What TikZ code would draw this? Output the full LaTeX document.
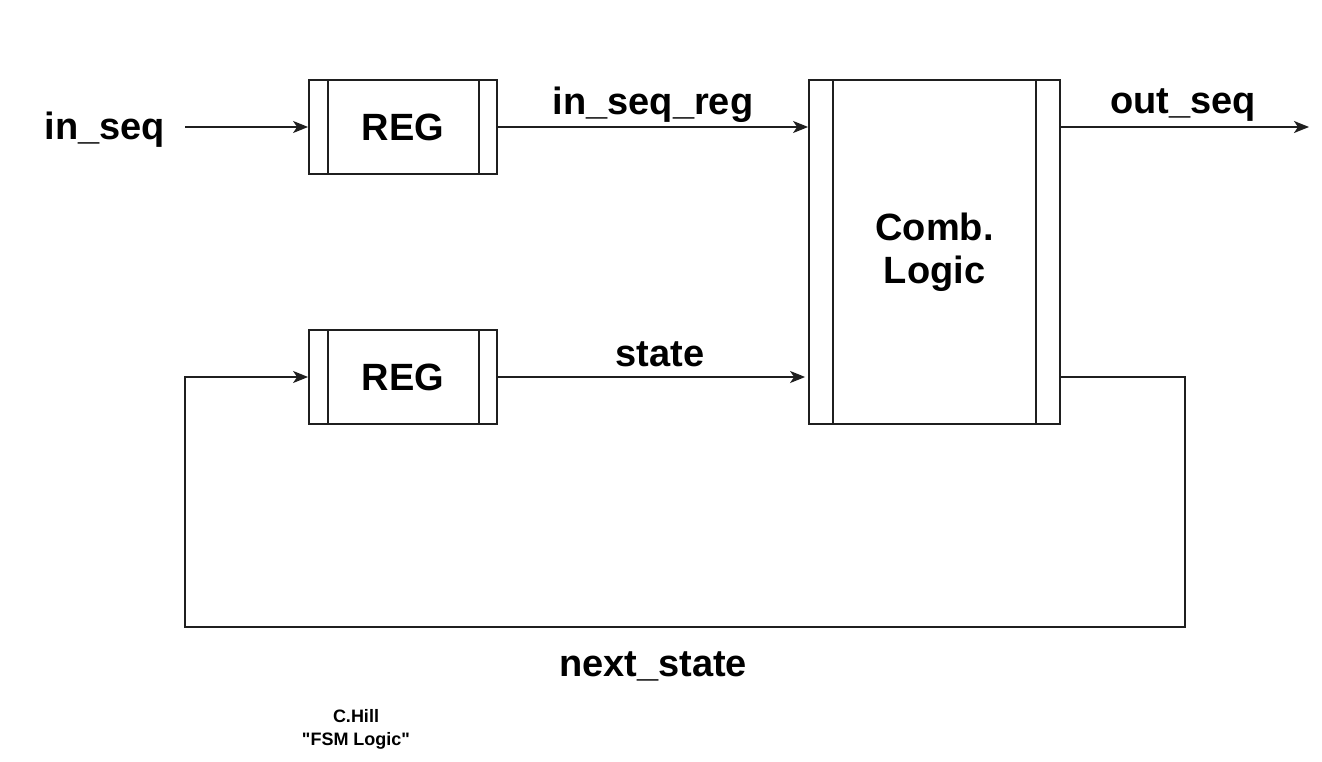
\documentclass[tikz,border=0pt]{standalone}
\usepackage{fontspec}
\setmainfont{Liberation Sans}[Ligatures=TeXOff]
\usetikzlibrary{arrows.meta,calc}
\begin{document}
\begin{tikzpicture}[x=1pt,y=-1pt,
  lw/.style={line width=1.8pt, draw=black!88},
  arr/.style={lw,-{Stealth[length=15pt,width=12pt,inset=4pt]}},
  regbox/.style={lw,rectangle,minimum width=188pt,minimum height=94pt,inner sep=0pt,
     font=\fontsize{38}{43}\selectfont\bfseries},
  combbox/.style={lw,rectangle,minimum width=251pt,minimum height=344pt,inner sep=0pt,align=center,
     font=\fontsize{38}{43}\selectfont\bfseries},
  lbl/.style={inner sep=0pt,font=\fontsize{38}{43}\selectfont\bfseries},
  small/.style={inner sep=0pt,align=center,font=\fontsize{18}{23}\selectfont\bfseries}]
\useasboundingbox (0,0) rectangle (1322,762);
\fill[white] (0,0) rectangle (1322,762);

\node[regbox] (reg1) at (403,127) {REG};
\node[regbox] (reg2) at (403,377) {REG};
\node[combbox] (comb) at (934.5,252) {Comb.\\Logic};

% inner vertical lines
\foreach \n in {reg1,reg2}{
  \draw[lw] ($(\n.north west)+(20,0)$) -- ($(\n.south west)+(20,0)$);
  \draw[lw] ($(\n.north east)+(-19,0)$) -- ($(\n.south east)+(-19,0)$);
}
\draw[lw] ($(comb.north west)+(25,0)$) -- ($(comb.south west)+(25,0)$);
\draw[lw] ($(comb.north east)+(-25,0)$) -- ($(comb.south east)+(-25,0)$);

% labels
\node[lbl] (inseq) at (105,130) {in\_seq};
\node[lbl] (inseqreg) at (653,105) {in\_seq\_reg};
\node[lbl] (state) at (660,354) {state};
\node[lbl] (outseq) at (1183,105) {out\_seq};
\node[lbl] (next) at (653,666) {next\_state};
\node[small] (credit) at (356,729) {C.Hill\\"FSM Logic"};

% coordinates
\coordinate (inStart) at (185,127);
\coordinate (outEnd) at (1309,127);
\coordinate (fbR) at (1185,627);
\coordinate (fbL) at (185,627);

% connectors
\draw[arr] (inStart) -- (reg1.west);
\draw[arr] (reg1.east) -- (comb.west |- reg1.east);
\draw[arr] (reg2.east) -- ($(comb.west |- reg2.east)+(-3,0)$);
\draw[arr] (comb.east |- reg1.east) -- (outEnd);
\draw[arr] (comb.east |- reg2.east) -| (fbR) -- (fbL) |- (reg2.west);
\end{tikzpicture}
\end{document}
